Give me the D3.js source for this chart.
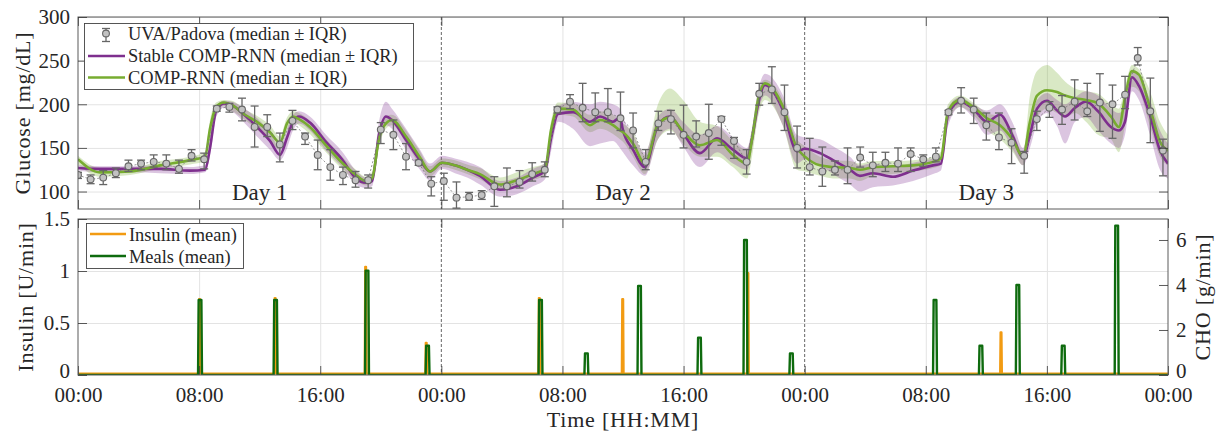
<!DOCTYPE html>
<html>
<head>
<meta charset="utf-8">
<title>Glucose, insulin and meals</title>
<script src="https://cdnjs.cloudflare.com/ajax/libs/d3/7.8.5/d3.min.js"></script>
<style>
    body { margin: 0; background: #fff; }
    text { font-family: 'Liberation Serif', 'DejaVu Serif', serif; fill: #262626; }
    .tick text { font-size: 21px; }
    .title { font-size: 22px; letter-spacing: 0.8px; }
    .legend text { font-size: 18.4px; }
    .day { font-size: 23px; }
</style>
</head>
<body>
<svg id="chart" width="1219" height="435"></svg>
<script>
// UVA/Padova simulator, one sample every 50 min from 00:00 of day 1 [mg/dL]
var uvaMed = [119, 114, 116, 121, 129, 132, 134, 132, 126, 141, 137, 195, 197, 194, 174, 174, 154, 181, 163, 142,
              128, 119, 113, 113, 171, 165, 140, 133, 109, 112, 93, 94, 96, 106, 106, 111, 120, 125, 194, 203,
              196, 191, 191, 184, 170, 134, 178, 183, 165, 163, 167, 183, 158, 134, 212, 217, 191, 150, 128, 123,
              125, 125, 139, 130, 133, 132, 143, 137, 140, 191, 204, 194, 176, 162, 156, 141, 183, 196, 194, 203,
              192, 202, 200, 211, 253, 192, 147];
var uvaLo = [115, 109, 108, 116, 123, 125, 128, 125, 121, 135, 126, 192, 191, 181, 151, 163, 134, 171, 154, 125,
             113, 108, 105, 104, 155, 148, 125, 130, 95, 90, 81, 90, 91, 83, 94, 104, 112, 117, 190, 195,
             180, 180, 180, 170, 150, 125, 170, 166, 150, 151, 137, 153, 138, 120, 199, 201, 170, 127, 119, 106,
             119, 109, 128, 117, 123, 123, 123, 129, 134, 188, 190, 178, 159, 148, 132, 121, 170, 185, 177, 182,
             186, 169, 161, 195, 245, 156, 118];
var uvaHi = [122, 119, 124, 127, 136, 136, 142, 142, 136, 148, 144, 198, 201, 207, 198, 188, 167, 193, 167, 159,
             148, 128, 123, 119, 179, 182, 155, 136, 117, 121, 111, 99, 101, 117, 127, 124, 133, 134, 197, 211,
             224, 213, 218, 214, 190, 148, 192, 193, 199, 181, 200, 186, 162, 148, 224, 243, 222, 175, 161, 151,
             135, 150, 151, 145, 145, 150, 150, 142, 150, 193, 219, 207, 190, 190, 172, 146, 192, 203, 210, 228,
             224, 235, 222, 232, 265, 230, 160];

// model outputs, sampled at these times [h]
var modelT = [0, 1.45, 3.43, 5.42, 7.40, 8.39, 8.72, 9.12, 9.64, 10.17, 11.03, 11.89, 12.68, 13.34, 13.81, 14.20,
              14.60, 15.32, 16.38, 17.44, 18.36, 19.02, 19.42, 19.88, 20.34, 20.74, 21.67, 22.59, 23.25, 24.04,
              24.90, 25.70, 26.55, 27.87, 28.99, 30.05, 30.85, 31.24, 31.71, 32.70, 33.82, 34.48, 35.34, 35.80,
              36.00, 36.66, 37.45, 38.31, 39.10, 39.96, 41.08, 42.21, 43.26, 44.19, 44.52, 44.92, 45.38, 46.57,
              47.49, 48.02, 49.01, 49.87, 50.99, 51.65, 52.51, 53.83, 55.16, 56.48, 57.00, 57.47, 58.26, 59.12,
              60.04, 60.90, 61.76, 62.42, 62.88, 63.35, 64.01, 64.67, 65.20, 65.86, 66.58, 67.38, 68.23, 68.76,
              69.16, 69.62, 70.08, 70.81, 71.47, 72.00];

// Stable COMP-RNN (median, IQR)
var stableMed = [127, 126, 126, 126, 124, 125, 150, 192, 201, 199, 187, 173, 158, 142, 162, 180, 186, 179, 157, 137,
                 115, 110, 112, 165, 186, 182, 159, 136, 123, 133, 130, 125, 118, 102, 106, 116, 124, 160, 189, 191,
                 180, 186, 180, 185, 170, 148, 128, 176, 186, 167, 144, 161, 148, 138, 160, 200, 222, 193, 146, 149,
                 144, 136, 125, 118, 121, 117, 124, 130, 132, 188, 203, 195, 180, 188, 163, 139, 165, 195, 204, 193,
                 186, 196, 203, 192, 174, 170, 180, 231, 221, 187, 147, 132];
var stableLo = [124, 122, 122, 121, 120, 122, 140, 185, 196, 192, 178, 162, 148, 136, 150, 170, 178, 170, 147, 128,
                108, 104, 106, 155, 176, 172, 148, 125, 113, 126, 121, 116, 108, 94, 97, 106, 114, 145, 180, 172,
                152, 155, 158, 150, 145, 130, 118, 160, 172, 152, 128, 145, 132, 125, 148, 190, 210, 175, 132, 137,
                130, 120, 108, 100, 105, 107, 112, 120, 124, 175, 197, 185, 165, 170, 148, 130, 150, 178, 190, 175,
                155, 180, 185, 170, 155, 150, 165, 215, 205, 165, 125, 115];
var stableHi = [130, 129, 129, 130, 128, 130, 160, 197, 204, 203, 195, 183, 168, 150, 172, 188, 192, 186, 165, 146,
                124, 116, 120, 180, 203, 195, 172, 148, 132, 141, 138, 134, 128, 112, 116, 126, 133, 172, 198, 203,
                200, 203, 200, 195, 185, 165, 145, 186, 195, 180, 165, 175, 162, 150, 172, 215, 235, 210, 165, 162,
                160, 152, 140, 130, 132, 128, 133, 138, 140, 196, 208, 200, 193, 200, 178, 150, 180, 205, 213, 205,
                200, 208, 215, 210, 195, 190, 200, 238, 232, 205, 170, 155];

// COMP-RNN (median, IQR)
var compMed = [137, 122, 123, 130, 136, 140, 172, 197, 202, 199, 188, 179, 168, 156, 178, 186, 183, 174, 153, 133,
               119, 112, 115, 160, 178, 182, 163, 139, 123, 133, 130, 125, 120, 108, 113, 120, 126, 170, 195, 194,
               176, 182, 176, 170, 168, 155, 132, 177, 185, 169, 153, 159, 142, 132, 160, 205, 224, 197, 150, 140,
               130, 128, 127, 125, 128, 129, 130, 134, 138, 192, 205, 197, 184, 176, 159, 140, 180, 210, 216, 214,
               210, 207, 205, 201, 186, 174, 208, 238, 234, 196, 157, 147];
var compLo = [131, 117, 119, 126, 131, 135, 160, 190, 198, 193, 182, 170, 158, 148, 170, 180, 176, 166, 145, 126,
              113, 107, 110, 152, 172, 176, 155, 130, 117, 128, 125, 120, 114, 101, 106, 113, 119, 160, 188, 186,
              168, 172, 166, 160, 157, 140, 120, 160, 170, 155, 140, 140, 128, 115, 140, 185, 205, 175, 125, 123,
              118, 115, 115, 112, 118, 120, 123, 127, 130, 180, 197, 188, 170, 160, 145, 130, 160, 185, 195, 190,
              185, 190, 180, 165, 160, 145, 175, 220, 215, 175, 140, 130];
var compHi = [141, 127, 127, 135, 140, 145, 182, 202, 205, 204, 194, 186, 176, 163, 185, 192, 190, 181, 160, 140,
              125, 117, 122, 170, 186, 188, 170, 146, 129, 138, 136, 131, 127, 116, 122, 128, 132, 180, 202, 201,
              188, 192, 188, 180, 178, 168, 142, 200, 218, 205, 180, 175, 158, 148, 172, 215, 228, 205, 160, 152,
              140, 136, 135, 132, 135, 135, 136, 140, 146, 200, 210, 202, 190, 186, 168, 145, 210, 238, 245, 236,
              226, 218, 215, 212, 200, 195, 220, 245, 240, 215, 180, 165];

// meals [g/min] and insulin boluses [U/min]
var mealT = [8.06, 13.05, 19.09, 23.09, 30.55, 33.58, 37.09, 41.05, 44.09, 47.12, 56.61, 59.64, 62.08, 65.08, 68.61];
var mealCHO = [3.33, 3.33, 4.64, 1.30, 3.33, 0.96, 3.96, 1.66, 6.00, 0.96, 3.33, 1.30, 4.00, 1.30, 6.64];
var bolusT = [8.03, 13.02, 19.00, 23.00, 30.47, 35.98, 44.25, 60.97];
var bolusU = [0.73, 0.74, 1.04, 0.31, 0.74, 0.73, 0.98, 0.41];
var basalU = 0.013;

var xTicks = [0, 8, 16, 24, 32, 40, 48, 56, 64, 72];
var xTickLabels = ['00:00', '08:00', '16:00', '00:00', '08:00', '16:00', '00:00', '08:00', '16:00', '00:00'];
var dayBreaks = [24, 48];
var dayNames = ['Day 1', 'Day 2', 'Day 3'];
var dayMid = [12, 36, 60];
var glucoseTicks = [100, 150, 200, 250, 300];
var insulinTicks = [0, 0.5, 1, 1.5];
var choTicks = [0, 2, 4, 6];

var svg = d3.select('#chart');

var left = 78, right = 1168;
var p1 = {top: 17, bottom: 209};
var p2 = {top: 219, bottom: 375};

var purple = '#7E2F8E', green = '#77AC30', orange = '#F29B12', dkgreen = '#0E6B0E';
var axisCol = '#5a5a5a', tickCol = '#333', gridCol = '#e3e3e3';

var x = d3.scaleLinear().domain([0, 72]).range([left, right]);
var yG = d3.scaleLinear().domain([80, 300]).range([p1.bottom, p1.top]);
var yI = d3.scaleLinear().domain([0, 1.5]).range([p2.bottom, p2.top]);
var yC = d3.scaleLinear().domain([0, 6.933]).range([p2.bottom, p2.top]);

var defs = svg.append('defs');
[['clip1', p1], ['clip2', p2]].forEach(function(c) {
    defs.append('clipPath').attr('id', c[0]).append('rect')
        .attr('x', left).attr('y', c[1].top)
        .attr('width', right - left).attr('height', c[1].bottom - c[1].top);
});

function styleAxis(g) {
    g.select('.domain').remove();
    g.selectAll('line').attr('stroke', tickCol).attr('stroke-width', 0.8);
}

// GRID + FRAME -------------------------------------------------------------------
function drawGrid(p, yScale, yTicks) {
    var gx = svg.append('g')
        .attr('transform', 'translate(0,' + p.bottom + ')')
        .call(d3.axisBottom(x).tickValues(xTicks.filter(function(t) { return t % 24 != 0; }))
            .tickSize(-(p.bottom - p.top)).tickFormat(''));
    gx.select('.domain').remove();
    gx.selectAll('line').attr('stroke', gridCol).attr('stroke-width', 1);

    var gy = svg.append('g')
        .attr('transform', 'translate(' + left + ',0)')
        .call(d3.axisLeft(yScale).tickValues(yTicks).tickSize(-(right - left)).tickFormat(''));
    gy.select('.domain').remove();
    gy.selectAll('line').attr('stroke', gridCol).attr('stroke-width', 1);

    svg.append('g').selectAll('line')
        .data(dayBreaks).enter().append('line')
        .attr('x1', function(d) { return x(d); })
        .attr('x2', function(d) { return x(d); })
        .attr('y1', p.top).attr('y2', p.bottom)
        .attr('stroke', '#555').attr('stroke-width', 0.9)
        .attr('stroke-dasharray', '3,2');
}

function drawFrame(p, showX) {
    var bx = svg.append('g')
        .attr('transform', 'translate(0,' + p.bottom + ')')
        .call(d3.axisBottom(x).tickValues(xTicks).tickSize(-9).tickPadding(12)
            .tickFormat(function(d, i) { return showX ? xTickLabels[i] : ''; }));
    styleAxis(bx);
    var tx = svg.append('g')
        .attr('transform', 'translate(0,' + p.top + ')')
        .call(d3.axisTop(x).tickValues(xTicks).tickSize(-9).tickFormat(''));
    styleAxis(tx);

    svg.append('rect')
        .attr('x', left).attr('y', p.top)
        .attr('width', right - left).attr('height', p.bottom - p.top)
        .attr('fill', 'none').attr('stroke', axisCol).attr('stroke-width', 1);
}

drawGrid(p1, yG, glucoseTicks);
drawGrid(p2, yI, [0.5, 1]);

// GLUCOSE -------------------------------------------------------------------
var idx = d3.range(modelT.length);
var gTop = svg.append('g').attr('clip-path', 'url(#clip1)');

function band(lo, hi) {
    return d3.area()
        .x(function(i) { return x(modelT[i]); })
        .y0(function(i) { return yG(lo[i]); })
        .y1(function(i) { return yG(hi[i]); })
        .curve(d3.curveMonotoneX)(idx);
}
function median(v) {
    return d3.line()
        .x(function(i) { return x(modelT[i]); })
        .y(function(i) { return yG(v[i]); })
        .curve(d3.curveMonotoneX)(idx);
}

gTop.append('path').attr('d', band(compLo, compHi)).attr('fill', green).attr('fill-opacity', 0.28);
gTop.append('path').attr('d', band(stableLo, stableHi)).attr('fill', purple).attr('fill-opacity', 0.28);
gTop.append('path').attr('d', median(stableMed)).attr('fill', 'none')
    .attr('stroke', purple).attr('stroke-width', 2.6);
gTop.append('path').attr('d', median(compMed)).attr('fill', 'none')
    .attr('stroke', green).attr('stroke-width', 2.6);

var uvaT = uvaMed.map(function(d, i) { return i * 50 / 60; });
var uvaIdx = d3.range(uvaMed.length);

gTop.append('path')
    .attr('d', d3.line()
        .x(function(i) { return x(uvaT[i]); })
        .y(function(i) { return yG(uvaMed[i]); })(uvaIdx))
    .attr('fill', 'none').attr('stroke', '#7a7a7a').attr('stroke-width', 0.8)
    .attr('stroke-dasharray', '2,2');

var bars = gTop.append('g').attr('stroke', '#666').attr('stroke-width', 1.3);
uvaIdx.forEach(function(i) {
    var cx = x(uvaT[i]);
    bars.append('line').attr('x1', cx).attr('x2', cx)
        .attr('y1', yG(uvaLo[i])).attr('y2', yG(uvaHi[i]));
    bars.append('line').attr('x1', cx - 4).attr('x2', cx + 4)
        .attr('y1', yG(uvaLo[i])).attr('y2', yG(uvaLo[i]));
    bars.append('line').attr('x1', cx - 4).attr('x2', cx + 4)
        .attr('y1', yG(uvaHi[i])).attr('y2', yG(uvaHi[i]));
});
gTop.append('g').selectAll('circle')
    .data(uvaIdx).enter().append('circle')
    .attr('cx', function(i) { return x(uvaT[i]); })
    .attr('cy', function(i) { return yG(uvaMed[i]); })
    .attr('r', 3.4)
    .attr('fill', '#c2c2c2').attr('stroke', '#666').attr('stroke-width', 1.1);

svg.selectAll('.day')
    .data(dayNames).enter().append('text')
    .attr('class', 'day')
    .attr('x', function(d, i) { return x(dayMid[i]); })
    .attr('y', 200)
    .attr('text-anchor', 'middle')
    .text(function(d) { return d; });

drawFrame(p1, false);

var ly = svg.append('g')
    .attr('transform', 'translate(' + left + ',0)')
    .call(d3.axisLeft(yG).tickValues(glucoseTicks).tickSize(-9).tickPadding(8));
styleAxis(ly);
var ry = svg.append('g')
    .attr('transform', 'translate(' + right + ',0)')
    .call(d3.axisRight(yG).tickValues(glucoseTicks).tickSize(-9).tickFormat(''));
styleAxis(ry);

// INSULIN + MEALS -------------------------------------------------------------------
var gBot = svg.append('g').attr('clip-path', 'url(#clip2)');

var insPts = [[0, basalU]];
bolusT.forEach(function(t, i) {
    insPts.push([t - 0.06, basalU], [t - 0.03, bolusU[i]], [t + 0.03, bolusU[i]], [t + 0.06, basalU]);
});
insPts.push([72, basalU]);

var mealPts = [[0, 0]];
mealT.forEach(function(t, i) {
    mealPts.push([t - 0.13, 0], [t - 0.09, mealCHO[i]], [t + 0.09, mealCHO[i]], [t + 0.13, 0]);
});
mealPts.push([72, 0]);

gBot.append('path')
    .attr('d', d3.line().x(function(d) { return x(d[0]); }).y(function(d) { return yI(d[1]); })(insPts))
    .attr('fill', 'none').attr('stroke', orange).attr('stroke-width', 2.2)
    .attr('stroke-linejoin', 'round');
gBot.append('path')
    .attr('d', d3.line().x(function(d) { return x(d[0]); }).y(function(d) { return yC(d[1]); })(mealPts))
    .attr('fill', 'none').attr('stroke', dkgreen).attr('stroke-width', 2.4)
    .attr('stroke-linejoin', 'round');

drawFrame(p2, true);

var ly2 = svg.append('g')
    .attr('transform', 'translate(' + left + ',0)')
    .call(d3.axisLeft(yI).tickValues(insulinTicks).tickSize(-9).tickPadding(8)
        .tickFormat(function(d) { return String(d); }));
styleAxis(ly2);
var ry2 = svg.append('g')
    .attr('transform', 'translate(' + right + ',0)')
    .call(d3.axisRight(yC).tickValues(choTicks).tickSize(-9).tickPadding(8)
        .tickFormat(function(d) { return String(d); }));
styleAxis(ry2);

// lift the two zero labels a little so they clear the time labels
[ly2, ry2].forEach(function(g) {
    g.selectAll('.tick text').filter(function(d) { return d == 0; }).attr('dy', '0.12em');
});

// TITLES -------------------------------------------------------------------
svg.append('text').attr('class', 'title')
    .attr('transform', 'translate(30,113) rotate(-90)')
    .attr('text-anchor', 'middle').text('Glucose [mg/dL]');
svg.append('text').attr('class', 'title')
    .attr('transform', 'translate(33,297) rotate(-90)')
    .attr('text-anchor', 'middle').text('Insulin [U/min]');
svg.append('text').attr('class', 'title')
    .attr('transform', 'translate(1210,297) rotate(-90)')
    .attr('text-anchor', 'middle').text('CHO [g/min]');
svg.append('text').attr('class', 'title')
    .attr('x', x(36)).attr('y', 427)
    .attr('text-anchor', 'middle').text('Time [HH:MM]');

// LEGENDS -------------------------------------------------------------------
var leg1 = svg.append('g').attr('class', 'legend');
leg1.append('rect').attr('x', 84.5).attr('y', 23.5).attr('width', 329).attr('height', 66)
    .attr('fill', '#fff').attr('stroke', '#444').attr('stroke-width', 0.9);
leg1.append('line').attr('x1', 106).attr('x2', 106).attr('y1', 28.5).attr('y2', 41.5)
    .attr('stroke', '#666').attr('stroke-width', 1.3);
[28.5, 41.5].forEach(function(cy) {
    leg1.append('line').attr('x1', 102).attr('x2', 110).attr('y1', cy).attr('y2', cy)
        .attr('stroke', '#666').attr('stroke-width', 1.3);
});
leg1.append('circle').attr('cx', 106).attr('cy', 33.5).attr('r', 3.4)
    .attr('fill', '#c2c2c2').attr('stroke', '#666').attr('stroke-width', 1.1);
leg1.append('line').attr('x1', 88).attr('x2', 125).attr('y1', 56).attr('y2', 56)
    .attr('stroke', purple).attr('stroke-width', 2.6);
leg1.append('line').attr('x1', 88).attr('x2', 125).attr('y1', 77.5).attr('y2', 77.5)
    .attr('stroke', green).attr('stroke-width', 2.6);
leg1.append('text').attr('x', 128).attr('y', 39.5).text('UVA/Padova (median \u00b1 IQR)');
leg1.append('text').attr('x', 128).attr('y', 62).text('Stable COMP-RNN (median \u00b1 IQR)');
leg1.append('text').attr('x', 128).attr('y', 83.5).text('COMP-RNN (median \u00b1 IQR)');

var leg2 = svg.append('g').attr('class', 'legend');
leg2.append('rect').attr('x', 86.5).attr('y', 223.5).attr('width', 157).attr('height', 45)
    .attr('fill', '#fff').attr('stroke', '#444').attr('stroke-width', 0.9);
leg2.append('line').attr('x1', 90).attr('x2', 126).attr('y1', 234).attr('y2', 234)
    .attr('stroke', orange).attr('stroke-width', 2.4);
leg2.append('line').attr('x1', 90).attr('x2', 126).attr('y1', 256).attr('y2', 256)
    .attr('stroke', dkgreen).attr('stroke-width', 2.4);
leg2.append('text').attr('x', 129).attr('y', 240.5).text('Insulin (mean)');
leg2.append('text').attr('x', 129).attr('y', 262.5).text('Meals (mean)');
</script>
</body>
</html>
